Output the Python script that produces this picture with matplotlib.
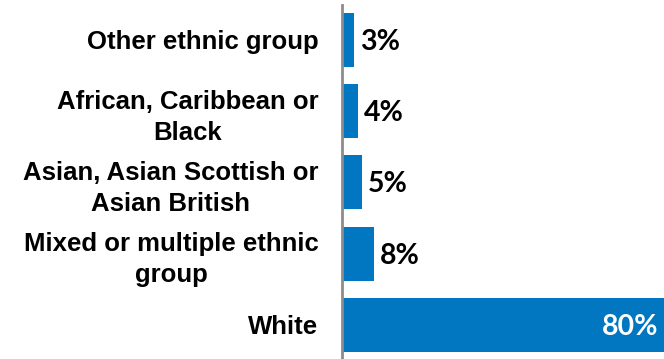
import matplotlib
matplotlib.use("Agg")
import matplotlib.pyplot as plt

categories = ["Other ethnic group", "African, Caribbean or\nBlack",
              "Asian, Asian Scottish or\nAsian British",
              "Mixed or multiple ethnic\ngroup", "White"]
values = [3, 4, 5, 8, 80]
labels = ["3%", "4%", "5%", "8%", "80%"]

bar_color = "#0077c0"

fig = plt.figure(figsize=(6.64, 3.59), dpi=100)
ax = fig.add_axes([342 / 664, 0, 322 / 664, 1 - 5 / 359])

pos = list(range(len(categories)))
ax.barh(pos, values, height=0.76, color=bar_color)
ax.set_xlim(0, 80)
ax.set_ylim(4.48, -0.49)

for s in ["top", "right", "bottom"]:
    ax.spines[s].set_visible(False)
ax.spines["left"].set_color("#8c8c8c")
ax.spines["left"].set_linewidth(2)
ax.set_xticks([])
ax.set_yticks(pos)
ax.set_yticklabels(categories, fontsize=18.5, fontweight="bold",
                   family="Liberation Sans", multialignment="center",
                   linespacing=1.38)
ax.tick_params(axis="y", length=0, pad=17)

for p, v, lab in zip(pos, values, labels):
    if v > 40:
        ax.annotate(lab, (v, p), xytext=(-4, -1.5), textcoords="offset points",
                    ha="right", va="center", color="white", fontsize=20.5,
                    family="Lato", fontweight="bold")
    else:
        ax.annotate(lab, (v, p), xytext=(4, -1.5), textcoords="offset points",
                    ha="left", va="center", color="black", fontsize=20.5,
                    family="Lato", fontweight="bold")

fig.savefig("out.png", dpi=100)
